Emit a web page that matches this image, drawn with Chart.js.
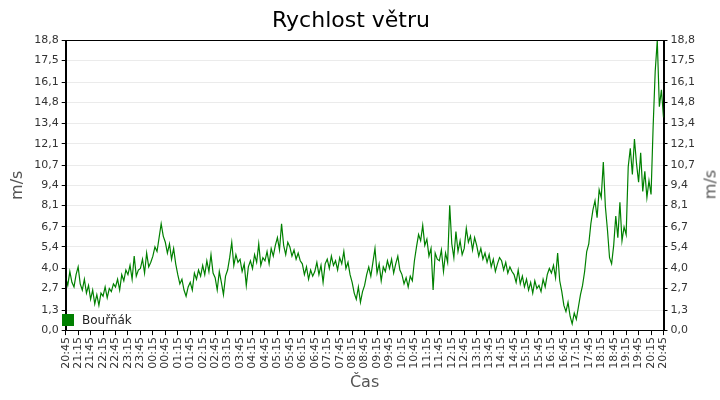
<!DOCTYPE html>
<html><head><meta charset="utf-8">
<script src="https://cdn.jsdelivr.net/npm/chart.js@4/dist/chart.umd.min.js"></script>
<style>body{margin:0;background:#fff}#w{position:relative;width:720px;height:400px}
#lg{position:absolute;left:62px;top:313px;font:12px "DejaVu Sans",sans-serif;color:#222;display:flex;align-items:center}
#lg span{display:inline-block;width:12px;height:12px;background:#008000;margin-right:8px}
#rt{position:absolute;left:690px;top:175px;width:40px;text-align:center;font:16px "DejaVu Sans",sans-serif;color:#555;transform:rotate(-90deg);transform-origin:center}</style>
</head><body><div id="w"><canvas id="c" width="720" height="400"></canvas><div id="lg"><span></span>Bouřňák</div><div id="rt">m/s</div></div>
<script>
const startLabel = "20:45";
const stepMinutes = 5;
const yTicks = [0,1.3,2.7,4.0,5.4,6.7,8.1,9.4,10.7,12.1,13.4,14.8,16.1,17.5,18.8];
const speed = [
3.4,2.9,3.8,3.1,2.8,3.6, 4.1,3.0,2.6,3.3,2.4,2.9, 2.0,2.6,1.7,2.3,1.6,2.4, 2.2,2.8,2.1,2.7,2.5,3.0,
2.8,3.3,2.6,3.6,3.2,3.9, 3.6,4.2,3.3,4.8,3.5,3.9, 4.0,4.6,3.7,5.0,4.1,4.4, 4.8,5.4,5.1,6.0,6.9,6.1,
5.7,5.0,5.6,4.6,5.3,4.3, 3.6,3.0,3.3,2.6,2.2,2.8, 3.1,2.6,3.7,3.3,3.9,3.5, 4.2,3.6,4.5,3.8,4.9,3.7,
3.4,2.6,3.8,3.1,2.3,3.5, 3.9,4.7,5.7,4.2,4.9,4.4, 4.6,3.8,4.3,2.9,4.1,4.5, 4.0,4.9,4.4,5.6,4.2,4.7,
4.5,5.1,4.3,5.3,4.8,5.5, 6.0,5.2,6.9,5.5,4.9,5.7, 5.4,4.8,5.2,4.6,5.0,4.5, 4.3,3.6,4.1,3.3,3.9,3.5,
3.8,4.4,3.6,4.2,3.1,4.3, 4.6,4.0,4.8,4.2,4.5,3.9, 4.7,4.3,5.1,4.0,4.4,3.6, 3.1,2.4,2.0,2.8,1.8,2.5,
2.9,3.6,4.1,3.5,4.4,5.3, 3.7,4.3,3.2,4.1,3.8,4.5, 4.0,4.6,3.7,4.3,4.8,3.9, 3.6,3.0,3.4,2.8,3.5,3.2,
4.5,5.4,6.2,5.8,6.8,5.5, 5.9,4.8,5.3,2.6,5.0,4.6, 4.5,5.2,3.8,5.0,4.4,8.1, 5.6,4.7,6.4,5.1,5.8,4.9,
5.3,6.6,5.7,6.1,5.2,6.0, 5.5,4.8,5.3,4.6,5.0,4.4, 4.9,4.1,4.6,3.8,4.3,4.7, 4.5,3.9,4.4,3.7,4.1,3.8,
3.6,3.1,3.9,3.0,3.5,2.8, 3.3,2.6,3.1,2.4,3.2,2.7, 2.9,2.5,3.3,2.8,3.6,4.0, 3.7,4.2,3.4,5.0,3.2,2.5,
1.6,1.2,1.8,0.9,0.4,1.1, 0.7,1.5,2.3,2.9,3.8,5.1, 5.6,6.9,7.8,8.4,7.3,9.1, 8.6,10.9,8.0,6.5,4.7,4.3,
5.5,7.4,6.0,8.3,5.8,6.7, 6.2,10.6,11.8,10.1,12.4,10.8, 9.6,11.5,9.0,10.3,8.6,9.7, 8.8,13.2,16.8,18.8,14.5,15.6,
13.8];
const [sh,sm] = startLabel.split(":").map(Number);
function fmtTime(min){const t=(sh*60+sm+min)%1440;return String(Math.floor(t/60)).padStart(2,"0")+":"+String(t%60).padStart(2,"0");}
const pts = speed.map((v,i)=>({x:i*stepMinutes,y:v}));
const maxX = (speed.length-1)*stepMinutes;
const font = {family:"DejaVu Sans",size:11};
const yAxis = (pos,title)=>({type:'linear',position:pos,min:0,max:18.8,
  afterBuildTicks:a=>{a.ticks=yTicks.map(v=>({value:v}));},
  ticks:{color:'#333',font,callback:v=>v.toFixed(1).replace('.',',')},
  grid:{color:'#ebebeb',drawTicks:true,tickColor:'#000',tickLength:4},
  border:{color:'#000'},
  title:{display:title,text:'m/s',color:'#555',font:{family:"DejaVu Sans",size:16}}});
const frame={id:'frame',afterDraw(c){const a=c.chartArea,x=c.ctx;x.save();x.strokeStyle='#000';x.lineWidth=1;x.strokeRect(Math.round(a.left)+0.5,Math.round(a.top)+0.5,Math.round(a.right-a.left),Math.round(a.bottom-a.top));x.restore();}};
new Chart(document.getElementById('c'),{type:'line',
 data:{datasets:[{label:'Bouřňák',data:pts,borderColor:'#008000',borderWidth:1.2,pointRadius:0,tension:0,fill:false}]},
 options:{responsive:false,animation:false,
  layout:{padding:{left:4,right:22,top:0,bottom:4}},
  plugins:{legend:{display:false},tooltip:{enabled:false},
   title:{display:true,text:'Rychlost větru',color:'#000',font:{family:"DejaVu Sans",size:22,weight:'normal'},padding:{top:8,bottom:6}}},
  scales:{
   x:{type:'linear',min:0,max:maxX,
     afterBuildTicks:a=>{const t=[];for(let m=0;m<=maxX;m+=30)t.push({value:m});a.ticks=t;},
     ticks:{color:'#333',font,maxRotation:90,minRotation:90,autoSkip:false,callback:v=>fmtTime(v),padding:2},
     grid:{drawOnChartArea:false,tickColor:'#000',tickLength:5},
     border:{color:'#000'},
     title:{display:true,text:'Čas',color:'#555',font:{family:"DejaVu Sans",size:16},padding:{top:2}}},
   y:yAxis('left',true), y2:yAxis('right',false)
  }},plugins:[frame]});
</script></body></html>
